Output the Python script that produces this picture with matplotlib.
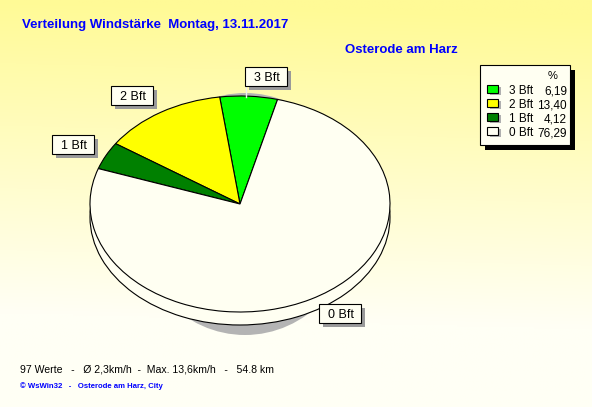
import numpy as np
import matplotlib
matplotlib.use('Agg')
import matplotlib.pyplot as plt
from matplotlib.patches import Rectangle, Ellipse

plt.rcParams['font.family'] = ['Liberation Sans', 'DejaVu Sans']

# data
labels = ['3 Bft', '2 Bft', '1 Bft', '0 Bft']
percent = [6.19, 13.40, 4.12, 76.29]
colors = ['#00FF00', '#FFFF00', '#008000', '#FFFFF2']
pct_text = ['6,19', '13,40', '4,12', '76,29']

title = 'Verteilung Windstärke  Montag, 13.11.2017'
station = 'Osterode am Harz'
footer = '97 Werte   -   Ø 2,3km/h  -  Max. 13,6km/h   -   54.8 km'
credit = '© WsWin32   -   Osterode am Harz, City'

# label nudges in pixels (layout only)
nudge = [(15, -4), (-11, -3), (-3, 1), (14, 7)]

W, H = 592, 407
fig = plt.figure(figsize=(W / 100, H / 100), dpi=100)

# background gradient
bg = fig.add_axes([0, 0, 1, 1])
yy = np.linspace(0, 1, 200)[:, None]
xx = np.linspace(0, 1, 200)[None, :]
t = np.clip(yy * 1.3 - xx * 0.05, 0, 1)
top = np.array([255, 250, 150]) / 255
bot = np.array([255, 255, 245]) / 255
img = top[None, None, :] * (1 - t[..., None]) + bot[None, None, :] * t[..., None]
bg.imshow(img, aspect='auto', extent=[0, W, H, 0])
bg.set_xlim(0, W)
bg.set_ylim(H, 0)
bg.axis('off')

# pie axes: centre (240,204) px, rx 150, ry 108
cx, cy, rx, ry = 240, 204, 150, 108
x0, x1, y0, y1 = -1.3, 1.3, -1.45, 1.3
ax = fig.add_axes([(cx + x0 * rx) / W, (H - (cy - y0 * ry)) / H,
                   (x1 - x0) * rx / W, (y1 - y0) * ry / H])
ax.patch.set_alpha(0)

depth = 13 / ry
ax.add_patch(Ellipse((5 / rx, -10 / ry), 2 * 112 / rx, 2 * 121 / ry,
                     fc='#B4B4B4', ec='none', zorder=0))
ax.pie([1], colors=['#FFFFF2'], center=(0, -depth), radius=1,
       wedgeprops=dict(ec='black', lw=0.8), startangle=90)
wedges, _ = ax.pie(percent, colors=colors, startangle=75.5, counterclock=True,
                   wedgeprops=dict(ec='black', lw=0.8))
ax.set_aspect('auto')
ax.set_xlim(x0, x1)
ax.set_ylim(y0, y1)
ax.axis('off')

# slice labels in boxes with shadow
bw, bh = 42 / rx, 19 / ry
sx, sy = 4 / rx, 4 / ry
for w, lab, (nx, ny) in zip(wedges, labels, nudge):
    ang = np.deg2rad((w.theta1 + w.theta2) / 2)
    lx = 1.22 * np.cos(ang) + nx / rx
    ly = 1.22 * np.sin(ang) + ny / ry
    ax.add_patch(Rectangle((lx - bw / 2 + sx, ly - bh / 2 - sy), bw, bh,
                           fc='#9A9A9A', ec='none', clip_on=False, zorder=5))
    ax.add_patch(Rectangle((lx - bw / 2, ly - bh / 2), bw, bh,
                           fc='#FFFFF2', ec='black', lw=0.8, clip_on=False, zorder=6))
    ax.text(lx + 1 / rx, ly - 1.5 / ry, lab, ha='center', va='center',
            fontsize=9, zorder=7)
    if lab == '3 Bft':
        ax.plot([lx - 20 / rx, lx - 20 / rx], [ly - bh / 2, np.sin(ang) * 0.99],
                color='#F0F0F0', lw=1, zorder=4)

# overlay for texts and legend (pixel coords)
ov = fig.add_axes([0, 0, 1, 1])
ov.set_xlim(0, W)
ov.set_ylim(H, 0)
ov.axis('off')
ov.patch.set_alpha(0)

ov.text(22, 25, title, color='#0000FF', fontsize=9.5, fontweight='bold', va='center')
ov.text(345, 50, station, color='#0000FF', fontsize=9.5, fontweight='bold', va='center')
ov.text(20, 369, footer, color='black', fontsize=7.6, va='center')
ov.text(20, 386, credit, color='#0000FF', fontsize=5.6, fontweight='bold', va='center')

# legend
lx0, ly0, lw_, lh_ = 480, 65, 90, 80
ov.add_patch(Rectangle((lx0 + 5, ly0 + 5), lw_, lh_, fc='black', ec='none'))
ov.add_patch(Rectangle((lx0, ly0), lw_, lh_, fc='#FFFFF2', ec='black', lw=0.8))
ov.text(553, 76, '%', fontsize=8, ha='center', va='center')
for i, (lab, c, p) in enumerate(zip(labels, colors, pct_text)):
    y = 91 + i * 14
    ov.add_patch(Rectangle((490, y - 4), 11, 8, fc='#B0B0B0', ec='none'))
    ov.add_patch(Rectangle((487, y - 6), 11, 8, fc=c, ec='black', lw=0.8))
    ov.text(509, y, lab, fontsize=8.5, va='center')
    ov.text(567, y, p, fontsize=8.5, va='center', ha='right')

fig.savefig('out.png', dpi=100)
